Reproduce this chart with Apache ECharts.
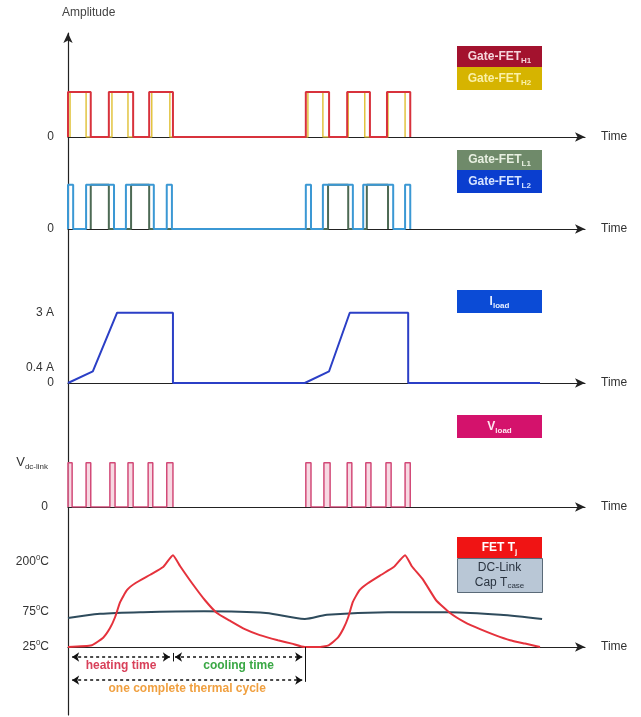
<!DOCTYPE html>
<html><head><meta charset="utf-8">
<script src="https://cdn.jsdelivr.net/npm/echarts@6/dist/echarts.min.js"></script>
<style>html,body{margin:0;padding:0;background:#fff}#c{width:641px;height:717px}</style>
</head><body><div id="c"></div>
<script>
// ---------- data (time in arbitrary units 0..100) ----------
const gateH1Pulses = [[0,4.4],[7.9,12.6],[15.7,20.3],[46.0,50.5],[54.0,58.4],[61.7,66.2]];
const gateH2Pulses = [[0.4,3.5],[8.5,11.6],[16.2,19.7],[46.4,49.3],[54.2,57.4],[61.9,65.2]];
const gateL1Pulses = [[4.4,7.9],[12.2,15.7],[50.3,54.2],[57.8,61.9]];
const gateL2Pulses = [[0,1.0],[3.5,8.9],[11.2,16.6],[19.1,20.1],[46.0,47.0],[49.3,55.1],[57.1,62.9],[65.2,66.2]];
const vLoadGroup1 = [[0,0.8],[3.5,4.4],[8.1,9.1],[11.6,12.6],[15.5,16.4],[19.1,20.3]];
const vLoadGroup2 = [[46.0,47.0],[49.5,50.7],[54.0,54.9],[57.6,58.6],[61.5,62.5],[65.2,66.2]];
const iLoadTime = [0,4.8,9.5,20.3,20.3,45.8,50.5,54.5,65.8,65.8,91.3];
const iLoadAmps = [0,0.5,3,3,0,0,0.5,3,3,0,0];
const fetTime  = [0,4.6,6.8,8.1,9.1,10.1,11.4,13.0,15.9,18.4,20.3,21.7,24.0,26.5,28.8,31.3,34.2,37.1,40.6,43.3,45.8,48.4,50.4,52.2,53.3,54.2,55.1,56.4,58.0,60.6,63.0,65.2,66.5,68.7,71.2,73.9,76.8,79.7,82.6,85.5,88.4,91.3];
const fetLevel = [0,0.02,0.11,0.22,0.35,0.53,0.67,0.75,0.85,0.94,1.08,0.95,0.75,0.55,0.40,0.31,0.21,0.14,0.08,0.04,0,0,0.02,0.11,0.22,0.35,0.53,0.67,0.75,0.85,0.94,1.08,0.95,0.79,0.55,0.40,0.29,0.21,0.14,0.08,0.04,0];
const capTime  = [0,6.2,14.5,26.3,38.3,45.8,50.1,61.9,73.9,83.6,91.7];
const capLevel = [0.34,0.39,0.41,0.42,0.40,0.33,0.38,0.41,0.41,0.38,0.33];
const currentTicks = [0,0.4,3];
const currentTickLabels = ['0','0.4 A','3 A'];
const tempTickLevels = [0,0.41,1];
const tempTickLabels = ['25','75','200'];
const heatingSpan = [0.8,19.7];
const coolingSpan = [20.7,45.3];
const cycleSpan = [0.8,45.3];

// ---------- helpers ----------
function pulseLine(pulses, tEnd){
  const pts = [[pulses[0][0],0]];
  pulses.forEach(p => { pts.push([p[0],0],[p[0],1],[p[1],1],[p[1],0]); });
  if (tEnd !== undefined) pts.push([tEnd,0]);
  return pts;
}
const zip = (a,b) => a.map((v,i)=>[v,b[i]]);

const FONT = '"Liberation Sans", Arial, sans-serif';
const L = 68, W = 517;
const grids = [
  {left:L, width:W, top:83,  height:54},
  {left:L, width:W, top:176, height:53},
  {left:L, width:W, top:301, height:82},
  {left:L, width:W, top:454, height:53},
  {left:L, width:W, top:545, height:153},
  {left:L, width:W, top:33,  height:682}
];
function xAx(i){
  return {type:'value', gridIndex:i, min:0, max:100,
    axisLine:{show:true, symbol:['none','arrow'], symbolSize:[7,10], lineStyle:{color:'#222', width:1.2}},
    axisTick:{show:false}, axisLabel:{show:false}, splitLine:{show:false},
    name:'Time', nameLocation:'end', nameGap:16,
    nameTextStyle:{fontFamily:FONT, fontSize:12, color:'#333'}};
}
const richNum = {
  n:{fontFamily:FONT, fontSize:12, color:'#333', lineHeight:16},
  sup:{fontFamily:FONT, fontSize:8, color:'#333', verticalAlign:'top'},
  v:{fontFamily:FONT, fontSize:13, color:'#333', lineHeight:16},
  sub:{fontFamily:FONT, fontSize:8, color:'#333', verticalAlign:'bottom'},
  up:{fontFamily:FONT, fontSize:12, color:'#333', padding:[0,0,12,0]}
};
function yAx(i, min, max, values, fmt, margin){
  return {type:'value', gridIndex:i, min:min, max:max,
    axisLine:{show:false}, axisTick:{show:false}, splitLine:{show:false},
    axisLabel:{show:true, customValues:values, margin:margin, formatter:fmt, rich:richNum,
      fontFamily:FONT, fontSize:12, color:'#333'}};
}
const xAxes = [0,1,2,3,4].map(xAx);
xAxes.push({type:'value', gridIndex:5, min:0, max:100, show:false});
const yAxes = [
  yAx(0,0,1.2,[0],()=>'{n|0}',14),
  yAx(1,0,1.2,[0],()=>'{n|0}',14),
  yAx(2,0,3.5,currentTicks,(v)=>{const k=currentTicks.indexOf(v); return k===1?'{up|'+currentTickLabels[k]+'}':'{n|'+currentTickLabels[k]+'}';},14),
  yAx(3,0,1.2,[0,1],(v)=> v===0?'{n|0}':'{v|V}{sub|dc-link}',20),
  yAx(4,-0.6,1.2,tempTickLevels,(v)=>{const k=tempTickLevels.indexOf(v); return '{n|'+tempTickLabels[k]+'}{sup|0}{n|C}';},19),
  {type:'value', gridIndex:5, min:0, max:1,
    axisLine:{show:true, symbol:['none','arrow'], symbolSize:[7,10], lineStyle:{color:'#222', width:1.2}},
    axisTick:{show:false}, axisLabel:{show:false}, splitLine:{show:false},
    name:'Amplitude', nameLocation:'end', nameGap:14,
    nameTextStyle:{fontFamily:FONT, fontSize:12, color:'#444', align:'left', padding:[0,0,0,-6]}}
];

function lineSeries(name, idx, data, color, width, extra){
  return Object.assign({type:'line', name:name, xAxisIndex:idx, yAxisIndex:idx, data:data,
    showSymbol:false, symbol:'none', lineStyle:{color:color, width:width}, itemStyle:{color:color},
    animation:false, silent:true}, extra||{});
}

function span(range, level, text, color){
  return [{coord:[range[0],level], symbol:'arrow',
           label:{show:true, formatter:text, position:'insideMiddleBottom', distance:3,
                  color:color, fontFamily:FONT, fontSize:12, fontWeight:'bold'}},
          {coord:[range[1],level], symbol:'arrow'}];
}
function tick(t, a, b){
  return [{coord:[t,a], symbol:'none', label:{show:false}, lineStyle:{type:'solid', width:1}},
          {coord:[t,b], symbol:'none'}];
}

const series = [
  lineSeries('Gate-FET H2',0,pulseLine(gateH2Pulses),'#e2c440',1.5),
  lineSeries('Gate-FET H1',0,pulseLine(gateH1Pulses,gateH1Pulses[gateH1Pulses.length-1][1]),'#d8323c',2),
  lineSeries('Gate-FET L1',1,pulseLine(gateL1Pulses),'#4d6a55',2),
  lineSeries('Gate-FET L2',1,pulseLine(gateL2Pulses,gateL2Pulses[gateL2Pulses.length-1][1]),'#3b98d4',2),
  lineSeries('I load',2,zip(iLoadTime,iLoadAmps),'#2b3fc6',2),
  lineSeries('V load',3,pulseLine(vLoadGroup1,vLoadGroup1[vLoadGroup1.length-1][1]),'#d24a78',1.5,{areaStyle:{color:'#f4c8d6'}}),
  lineSeries('V load',3,pulseLine(vLoadGroup2,vLoadGroup2[vLoadGroup2.length-1][1]),'#d24a78',1.5,{areaStyle:{color:'#f4c8d6'}}),
  lineSeries('DC-Link Cap T case',4,zip(capTime,capLevel),'#2e4b5c',2,{smooth:0.3}),
  lineSeries('FET Tj',4,zip(fetTime,fetLevel),'#e5323c',2,{smooth:0.15,
    markLine:{silent:true, animation:false, symbol:['arrow','arrow'], symbolSize:7,
      lineStyle:{color:'#111', type:[3,3], width:1.5},
      data:[
        span(heatingSpan,-0.118,'heating time','#d8405a'),
        span(coolingSpan,-0.118,'cooling time','#3aa845'),
        span(cycleSpan,-0.39,'one complete thermal cycle','#f0a040'),
        tick(45.8,0,-0.41),
        tick(20.3,-0.07,-0.17)
      ]}})
];

// legend boxes
const legendBoxes = [
  {y:46, h:21, fill:'#a3122e', text:'{m|Gate-FET}{s|H1}', color:'#f6d6dc'},
  {y:67, h:23, fill:'#d6b400', text:'{m|Gate-FET}{s|H2}', color:'#faf0a8'},
  {y:150,h:20, fill:'#6f8a6a', text:'{m|Gate-FET}{s|L1}', color:'#e8f0e2'},
  {y:170,h:23, fill:'#0a3ecf', text:'{m|Gate-FET}{s|L2}', color:'#d6e4ff'},
  {y:290,h:23, fill:'#0b4bd6', text:'{m|I}{s|load}', color:'#e8efff'},
  {y:415,h:23, fill:'#d4126c', text:'{m|V}{s|load}', color:'#ffe6f0'},
  {y:537,h:21, fill:'#f01414', text:'{m|FET T}{s|j}', color:'#ffffff'},
  {y:558,h:34, fill:'#b9c7d6', text:'{d|DC-Link}\n{d|Cap T}{ds|case}', color:'#2a3440', stroke:'#5a6a78'}
];
const graphic = [];
legendBoxes.forEach(b => {
  graphic.push({type:'rect', left:457, top:b.y, shape:{width:85, height:b.h},
    style:{fill:b.fill, stroke:b.stroke||null, lineWidth:b.stroke?1:0}, silent:true, z:10});
  graphic.push({type:'text', x:499.5, y:b.y+b.h/2, silent:true, z:11,
    style:{text:b.text, textAlign:'center', textVerticalAlign:'middle', fill:b.color,
      rich:{
        m:{fontFamily:FONT, fontSize:12, fontWeight:'bold', fill:b.color, lineHeight:16},
        s:{fontFamily:FONT, fontSize:8, fontWeight:'bold', fill:b.color, verticalAlign:'bottom'},
        d:{fontFamily:FONT, fontSize:12, fill:b.color, lineHeight:15},
        ds:{fontFamily:FONT, fontSize:8, fill:b.color, verticalAlign:'bottom'}
      }}});
});

const chart = echarts.init(document.getElementById('c'), null, {renderer:'canvas'});
chart.setOption({
  animation:false, backgroundColor:'#fff',
  grid:grids, xAxis:xAxes, yAxis:yAxes, series:series, graphic:graphic
});
</script></body></html>
